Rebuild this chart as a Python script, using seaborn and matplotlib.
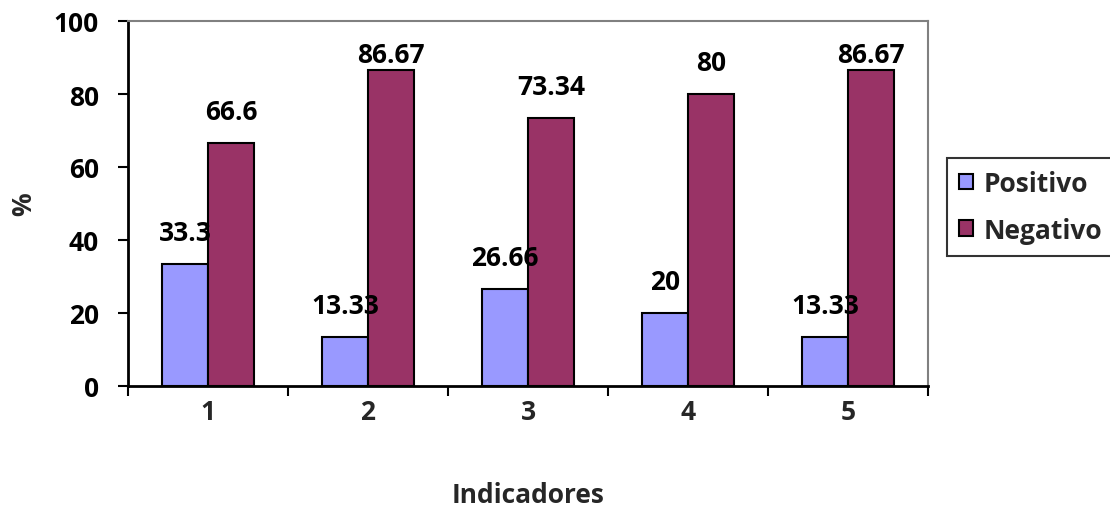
import matplotlib
matplotlib.use("Agg")
import matplotlib.pyplot as plt
import seaborn as sns
import pandas as pd
from matplotlib.ticker import FixedLocator

categories = ["1", "2", "3", "4", "5"]
positivo = [33.3, 13.33, 26.66, 20, 13.33]
negativo = [66.6, 86.67, 73.34, 80, 86.67]
pos_labels = ["33.3", "13.33", "26.66", "20", "13.33"]
neg_labels = ["66.6", "86.67", "73.34", "80", "86.67"]
series = ["Positivo", "Negativo"]
colors = ["#9999FF", "#993366"]

df = pd.DataFrame({
    "Indicadores": categories * 2,
    "valor": positivo + negativo,
    "serie": [series[0]] * 5 + [series[1]] * 5,
})

sns.set_theme(style="white")
plt.rcParams["font.family"] = ["Open Sans", "DejaVu Sans"]
plt.rcParams["font.weight"] = "bold"

FS = 19

fig = plt.figure(figsize=(11.1, 5.1), dpi=100)
ax = fig.add_axes([128/1110, 1 - 387/510, 800/1110, 365/510])

sns.barplot(data=df, x="Indicadores", y="valor", hue="serie", palette=colors,
            width=0.575, edgecolor="black", linewidth=1.5, ax=ax, legend=True,
            saturation=1)

ax.set_ylim(0, 100)
ax.set_xlim(-0.5, 4.5)
ax.set_yticks([0, 20, 40, 60, 80, 100])
ax.tick_params(axis="y", which="major", length=7, width=1.5, direction="out",
               labelsize=FS, left=True, pad=14, colors="black")
ax.tick_params(axis="x", which="major", length=0, labelsize=FS, pad=9)
ax.xaxis.set_minor_locator(FixedLocator([-0.5, 0.5, 1.5, 2.5, 3.5, 4.5]))
ax.tick_params(axis="x", which="minor", length=7, width=1.5, direction="out",
               bottom=True, color="black")
for lab in ax.get_xticklabels() + ax.get_yticklabels():
    lab.set_fontweight("bold")

for s in ["left", "bottom"]:
    ax.spines[s].set_color("black")
    ax.spines[s].set_linewidth(2)
for s in ["top", "right"]:
    ax.spines[s].set_visible(True)
    ax.spines[s].set_color("#808080")
    ax.spines[s].set_linewidth(1.5)

ax.set_xlabel("Indicadores", fontsize=FS, fontweight="bold", labelpad=40)
ax.set_ylabel("%", fontsize=FS, fontweight="bold", labelpad=12)

# data labels (baseline ~6.6 units above bar top, kept inside the chart area)
for cont, labels in zip(ax.containers, [pos_labels, neg_labels]):
    for rect, lab in zip(cont, labels):
        x = rect.get_x() + rect.get_width() / 2
        y = min(rect.get_height() + 6.6, 88.9)
        ax.text(x, y, lab, ha="center", va="baseline", fontsize=FS,
                fontweight="bold", color="black", clip_on=False)

leg = ax.legend(loc="upper left", bbox_to_anchor=(947/1110, 1 - 159/510),
                bbox_transform=fig.transFigure, frameon=True, fancybox=False,
                edgecolor="black", fontsize=FS, handlelength=0.55, handleheight=0.55,
                handletextpad=0.4, borderpad=0.45, labelspacing=0.75, borderaxespad=0)
leg.get_frame().set_linewidth(1.5)
for t in leg.get_texts():
    t.set_fontweight("bold")

fig.savefig("out.png", dpi=100)
